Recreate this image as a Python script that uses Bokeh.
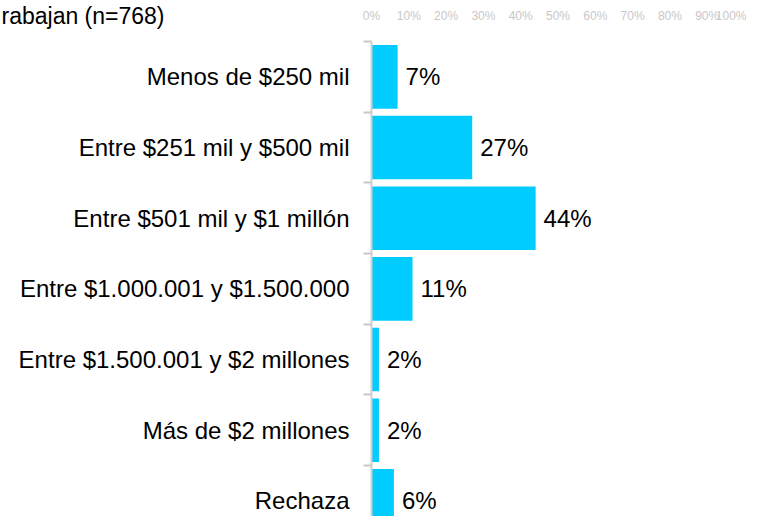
from bokeh.plotting import figure
from bokeh.models import (ColumnDataSource, Range1d, LinearAxis, FixedTicker,
                          PrintfTickFormatter, Title)
from bokeh.core.properties import value
from bokeh.embed import file_html
from bokeh.resources import INLINE

categories = [
    "Menos de $250 mil",
    "Entre $251 mil y $500 mil",
    "Entre $501 mil y $1 millón",
    "Entre $1.000.001 y $1.500.000",
    "Entre $1.500.001 y $2 millones",
    "Más de $2 millones",
    "Rechaza",
]
values = [7, 27, 44, 11, 2, 2, 6]
pct_labels = ["7%", "27%", "44%", "11%", "2%", "2%", "6%"]
x_ticks = [0, 10, 20, 30, 40, 50, 60, 70, 80, 90, 100]
title_text = "rabajan (n=768)"

FONT = "Liberation Sans"
positions = list(range(len(categories)))

src = ColumnDataSource(dict(y=positions, v=values, lab=pct_labels))

p = figure(width=746, height=516, output_backend="svg", toolbar_location=None,
           x_range=Range1d(0, 100), y_range=Range1d(6.221, -0.5),
           x_axis_location=None, y_axis_location=None,
           min_border_left=371, min_border_right=2,
           min_border_top=41, min_border_bottom=0)
p.outline_line_color = None
p.xgrid.visible = False
p.ygrid.visible = False
p.background_fill_color = "white"
p.border_fill_color = "white"

p.hbar(y="y", right="v", left=0, height=0.9, source=src,
       fill_color="#00CCFF", line_color=None)

p.text(x="v", y="y", text="lab", source=src, x_offset=8,
       text_baseline="middle", text_align="left",
       text_font=value(FONT), text_font_size="24px", text_color="#000000")

# top axis
xax = LinearAxis(ticker=FixedTicker(ticks=x_ticks),
                 formatter=PrintfTickFormatter(format="%d%%"))
xax.axis_line_color = None
xax.major_tick_line_color = None
xax.minor_tick_line_color = None
xax.major_tick_out = 0
xax.major_tick_in = 0
xax.major_label_standoff = 19
xax.major_label_text_font = FONT
xax.major_label_text_font_size = "12px"
xax.major_label_text_color = "#c8c8c8"
p.add_layout(xax, "above")

# left axis
boundaries = [i - 0.5 for i in positions] + [positions[-1] + 0.5]
yax = LinearAxis(ticker=FixedTicker(ticks=positions, minor_ticks=boundaries))
yax.major_label_overrides = {i: c for i, c in zip(positions, categories)}
yax.axis_line_color = "#d0d0d0"
yax.axis_line_width = 2
yax.major_tick_line_color = None
yax.major_tick_out = 0
yax.major_tick_in = 0
yax.minor_tick_line_color = "#c8c8c8"
yax.minor_tick_line_width = 2
yax.minor_tick_out = 8
yax.minor_tick_in = 0
yax.major_label_standoff = 14
yax.major_label_text_font = FONT
yax.major_label_text_font_size = "24px"
yax.major_label_text_color = "#000000"
p.add_layout(yax, "left")

title = Title(text=title_text, align="left", offset=-370, standoff=-47,
              text_font=FONT, text_font_size="23px", text_font_style="normal",
              text_color="#000000")
p.add_layout(title, "above")

open("out.html", "w").write(file_html(p, INLINE))
